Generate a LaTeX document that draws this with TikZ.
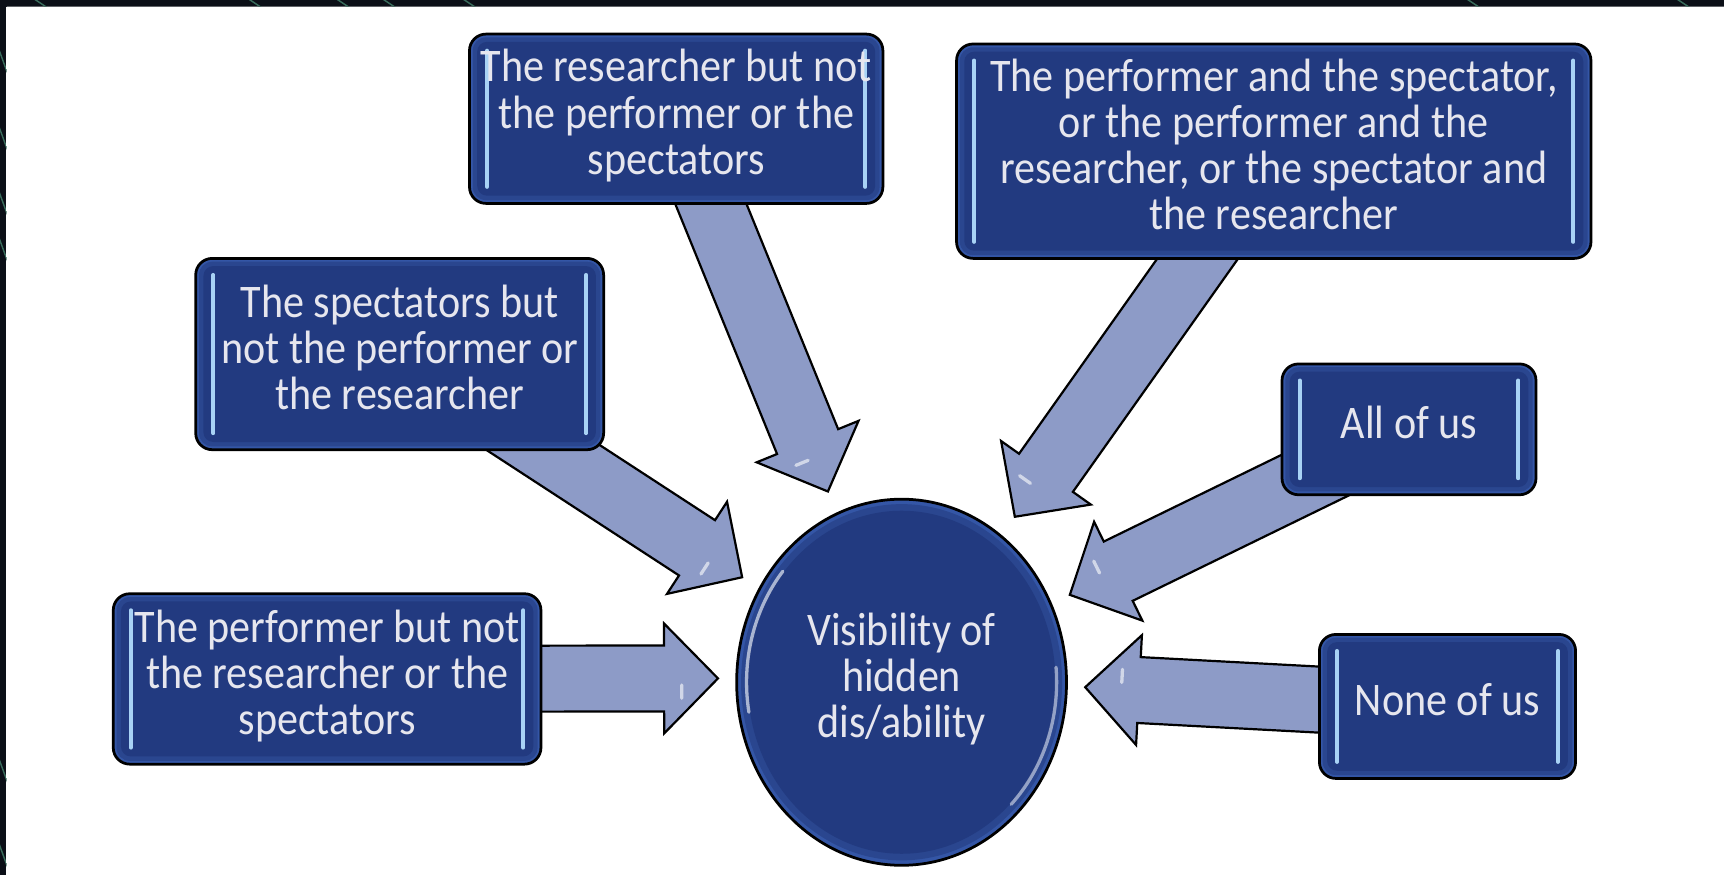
\documentclass[tikz,border=0pt]{standalone}
\usepackage{fontspec}
\setmainfont{Carlito}
\usepackage{graphicx}
\usetikzlibrary{calc,shapes.geometric}
\pgfdeclarelayer{bg}
\pgfsetlayers{bg,main}
\definecolor{navy}{HTML}{223A80}
\definecolor{navymid}{HTML}{2A468F}
\definecolor{navyrim}{HTML}{3456A6}
\definecolor{arrowfill}{HTML}{8D9BC7}
\definecolor{txt}{HTML}{E6E6EE}
\definecolor{hl}{HTML}{A8D2F5}
\definecolor{framedark}{HTML}{0B0F17}
\definecolor{frameline}{HTML}{3A6C5C}
\newcommand\bxfont{\fontsize{38.3}{37.8}\selectfont}
\newcommand\bxtext[1]{\scalebox{1}[1.11]{\begin{tabular}{@{}c@{}}#1\end{tabular}}}
\newcommand\barrow[2]{%
  \coordinate (bh) at ($(#2)!49pt!(#1)$);
  \coordinate (bq) at ($(bh)!16pt!(#2)$);
  \filldraw[arrowst] ($(#1)!30pt!90:(#2)$) -- ($(bh)!30pt!90:(#2)$) -- ($(bh)!50pt!90:(#2)$) -- (#2)
     -- ($(bh)!50pt!-90:(#2)$) -- ($(bh)!30pt!-90:(#2)$) -- ($(#1)!30pt!-90:(#2)$) -- cycle;
  \draw[white, opacity=.6, line width=3pt, line cap=round] ($(bq)!6pt!-90:(#2)$) -- ($(bq)!18pt!-90:(#2)$);
}
\tikzset{
  arrowst/.style={fill=arrowfill, draw=black, line width=2pt, line join=miter},
  dbox/.style={rectangle, rounded corners=15pt, draw=black, line width=2.5pt, fill=navyrim,
    text=txt, inner sep=0pt, font=\bxfont,
    path picture={
      \fill[navymid, rounded corners=12pt] ([shift={(3pt,3pt)}]path picture bounding box.south west) rectangle ([shift={(-3pt,-3pt)}]path picture bounding box.north east);
      \fill[navy, rounded corners=9pt] ([shift={(7pt,7pt)}]path picture bounding box.south west) rectangle ([shift={(-7pt,-7pt)}]path picture bounding box.north east);
      \draw[hl, line width=3.5pt, line cap=round] ([shift={(16pt,15pt)}]path picture bounding box.south west) -- ([shift={(16pt,-15pt)}]path picture bounding box.north west);
      \draw[hl, line width=3.5pt, line cap=round] ([shift={(-16pt,15pt)}]path picture bounding box.south east) -- ([shift={(-16pt,-15pt)}]path picture bounding box.north east);
    }},
  circ/.style={ellipse, draw=black, line width=2.5pt, fill=navyrim, text=txt, inner sep=0pt,
    minimum width=300pt, minimum height=333pt, font=\bxfont,
    path picture={
      \fill[navymid] (path picture bounding box.center) ellipse [x radius=146pt, y radius=162pt];
      \fill[navy] (path picture bounding box.center) ellipse [x radius=140pt, y radius=156pt];
      \draw[white, opacity=.6, line width=3pt, line cap=round] ($(path picture bounding box.center)+({141*cos(140)},{157*sin(140)})$) arc [start angle=140, end angle=190, x radius=141pt, y radius=157pt];
      \draw[white, opacity=.5, line width=3pt, line cap=round] ($(path picture bounding box.center)+({141*cos(-45)},{157*sin(-45)})$) arc [start angle=-45, end angle=5, x radius=141pt, y radius=157pt];
    }}
}
\begin{document}
\begin{tikzpicture}[x=1pt,y=1pt]
\useasboundingbox (0,0) rectangle (1568,-796);
% frame strips
\begin{scope}
  \clip (0,0) rectangle (1568,-6) (0,0) rectangle (6,-796);
  \fill[framedark] (0,0) rectangle (1568,-6);
  \fill[framedark] (0,0) rectangle (6,-796);
  \foreach \x in {31,226,306,348,421,1334,1525}
    \draw[frameline, line width=1.3pt] (\x,1) -- ++(12,-8);
  \foreach \y in {45,115,174,216,690,767}
    \draw[frameline, line width=1.3pt] (-1,-\y) -- ++(8,-22);
\end{scope}
% boxes
\node[dbox, minimum width=376pt, minimum height=154pt] (top) at (615,-108)
  {\bxtext{The researcher but not\\the performer or the\\spectators}};
\node[dbox, minimum width=577pt, minimum height=195pt] (topright) at (1158.5,-137.5)
  {\bxtext{The performer and the spectator,\\or the performer and the\\researcher, or the spectator and\\the researcher}};
\node[dbox, minimum width=371pt, minimum height=174pt] (midleft) at (363.5,-322)
  {\bxtext{The spectators but\\not the performer or\\the researcher}};
\node[dbox, minimum width=231pt, minimum height=119pt] (all) at (1281.5,-390.5)
  {\bxtext{All of us}};
\node[dbox, minimum width=389pt, minimum height=155pt] (botleft) at (297.5,-617.5)
  {\bxtext{The performer but not\\the researcher or the\\spectators}};
\node[dbox, minimum width=233pt, minimum height=131pt] (none) at (1316.5,-642.5)
  {\bxtext{None of us}};
\node[circ] (c) at (820,-620.5) {\bxtext{Visibility of\\hidden\\dis/ability}};
% arrow tips
\coordinate (tA) at (753,-447);
\coordinate (tB) at (675,-525);
\coordinate (tC) at (653,-617);
\coordinate (tD) at (923,-470);
\coordinate (tE) at (973,-541);
\coordinate (tF) at (987,-625);
\begin{pgfonlayer}{bg}
  \barrow{top.center}{tA}
  \barrow{midleft.center}{tB}
  \barrow{botleft.center}{tC}
  \barrow{topright.center}{tD}
  \barrow{all.center}{tE}
  \barrow{none.center}{tF}
\end{pgfonlayer}
\end{tikzpicture}
\end{document}
